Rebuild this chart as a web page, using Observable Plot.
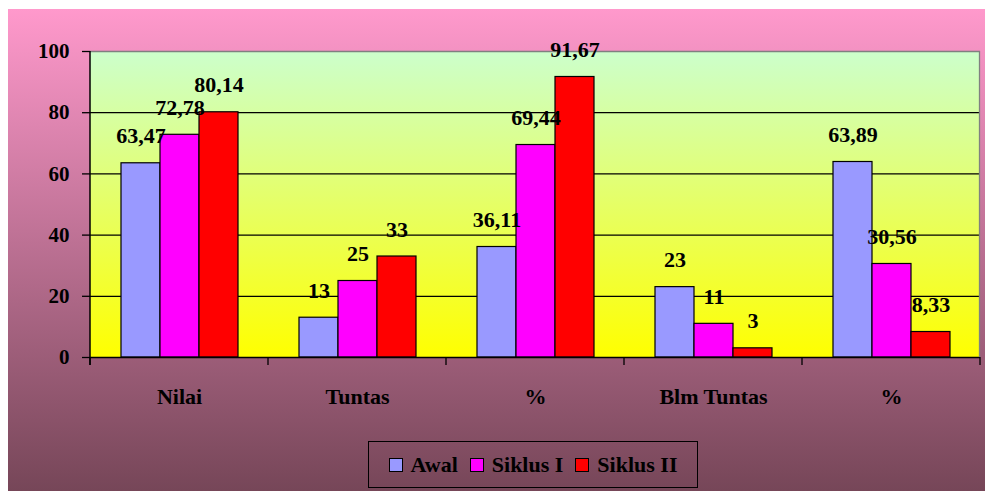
<!DOCTYPE html>
<html><head><meta charset="utf-8">
<script src="https://cdn.jsdelivr.net/npm/d3@7"></script>
<script src="https://cdn.jsdelivr.net/npm/@observablehq/plot@0.6"></script>
<style>
html,body{margin:0;padding:0;background:#fff;}
#chart{position:absolute;left:8px;top:9px;width:977px;height:482px;background:linear-gradient(to bottom,#ff99cc 0%,#764658 100%);overflow:hidden;}
#chart svg{position:absolute;left:0;top:0;}
#chart, #chart svg, #chart svg text, #legend{font-family:"Liberation Serif","Times New Roman","Tinos","DejaVu Serif","Noto Serif","FreeSerif","Nimbus Roman","Nimbus Roman No9 L","Times",serif !important;}
#legend{position:absolute;left:360px;top:432px;width:330px;height:47px;box-sizing:border-box;border:1.5px solid #000;display:flex;align-items:center;justify-content:center;gap:12px;font-weight:bold;font-size:22px;color:#000;}
.item{display:flex;align-items:center;}
.sw{width:12px;height:12px;border:1px solid #000;margin-right:8px;}
</style></head><body>
<div id="chart"></div>
<script>
const categories = ["Nilai", "Tuntas", "%", "Blm Tuntas", "%"];
const seriesNames = ["Awal", "Siklus I", "Siklus II"];
const seriesColors = ["#9999ff", "#ff00ff", "#ff0000"];
const awal = [63.47, 13, 36.11, 23, 63.89];
const siklus1 = [72.78, 25, 69.44, 11, 30.56];
const siklus2 = [80.14, 33, 91.67, 3, 8.33];
const yTicks = [0, 20, 40, 60, 80, 100];

const seriesValues = [awal, siklus1, siklus2];
const rows = categories.flatMap((c, i) => seriesNames.map((s, j) => ({cat: i, series: s, value: seriesValues[j][i]})));
const fmt = v => String(v).replace(".", ",");

const W = 977, H = 420;
const plot = Plot.plot({
  width: W, height: H,
  marginLeft: 80, marginRight: 3, marginTop: 42, marginBottom: 72,
  style: {background: "transparent", color: "#000", overflow: "visible"},
  fx: {domain: d3.range(categories.length), padding: 0, axis: null, label: null},
  x: {domain: seriesNames, paddingInner: 0, paddingOuter: 0.75, axis: null, label: null},
  y: {domain: [0, 100], axis: null, label: null},
  color: {domain: seriesNames, range: seriesColors},
  marks: [
    Plot.ruleY([20, 40, 60, 80], {stroke: "#000", strokeWidth: 1.3}),
    Plot.ruleY([100], {stroke: "#808080", strokeWidth: 1.3}),
    Plot.barY(rows, {fx: "cat", x: "series", y: "value", fill: "series", stroke: "#000", strokeWidth: 1.2, inset: 0}),
    Plot.ruleY([0], {stroke: "#000", strokeWidth: 1.5}),
    Plot.text(rows, {fx: "cat", x: "series", y: "value", text: d => fmt(d.value), dy: -27, lineAnchor: "middle", fontSize: 22, fontWeight: "bold", fill: "#000"}),
    Plot.axisY({ticks: yTicks, tickSize: 8, tickPadding: 13, fontSize: 21, fontWeight: "bold", strokeWidth: 1.3, label: null}),
    Plot.axisFx({anchor: "bottom", tickSize: 0, tickPadding: 31, tickFormat: i => categories[i], fontSize: 22, fontWeight: "bold", label: null})
  ]
});

const svg = d3.select(plot);
const defs = svg.insert("defs", ":first-child");
const grad = defs.append("linearGradient").attr("id", "plotBg").attr("x1", 0).attr("y1", 0).attr("x2", 0).attr("y2", 1);
grad.append("stop").attr("offset", "0%").attr("stop-color", "#ccffcc");
grad.append("stop").attr("offset", "100%").attr("stop-color", "#ffff00");

const fxS = plot.scale("fx"), yS = plot.scale("y");
const bounds = fxS.domain.map(d => fxS.apply(d));
bounds.push(bounds[bounds.length - 1] + fxS.step);
const y0 = yS.apply(0), yTop = yS.apply(100);
const xL = bounds[0], xR = bounds[bounds.length - 1];

// plot-area background, behind all marks
svg.insert("rect", "defs + *")
  .attr("x", xL).attr("y", yTop).attr("width", xR - xL).attr("height", y0 - yTop)
  .attr("fill", "url(#plotBg)");

const over = svg.append("g");
over.selectAll("line.tk").data(bounds).join("line")
  .attr("x1", d => d).attr("x2", d => d).attr("y1", y0).attr("y2", y0 + 8)
  .attr("stroke", "#000").attr("stroke-width", 1.3);
over.append("line").attr("x1", xL).attr("x2", xL).attr("y1", yTop).attr("y2", y0 + 8)
  .attr("stroke", "#000").attr("stroke-width", 1.5);
over.append("line").attr("x1", xR - 0.5).attr("x2", xR - 0.5).attr("y1", yTop).attr("y2", y0)
  .attr("stroke", "#808080").attr("stroke-width", 1.3);

const chart = document.getElementById("chart");
chart.appendChild(plot);

const legend = d3.select(chart).append("div").attr("id", "legend");
const items = legend.selectAll(".item").data(seriesNames).join("div").attr("class", "item");
items.append("div").attr("class", "sw").style("background", (d, i) => seriesColors[i]);
items.append("span").text(d => d);
</script>
</body></html>
